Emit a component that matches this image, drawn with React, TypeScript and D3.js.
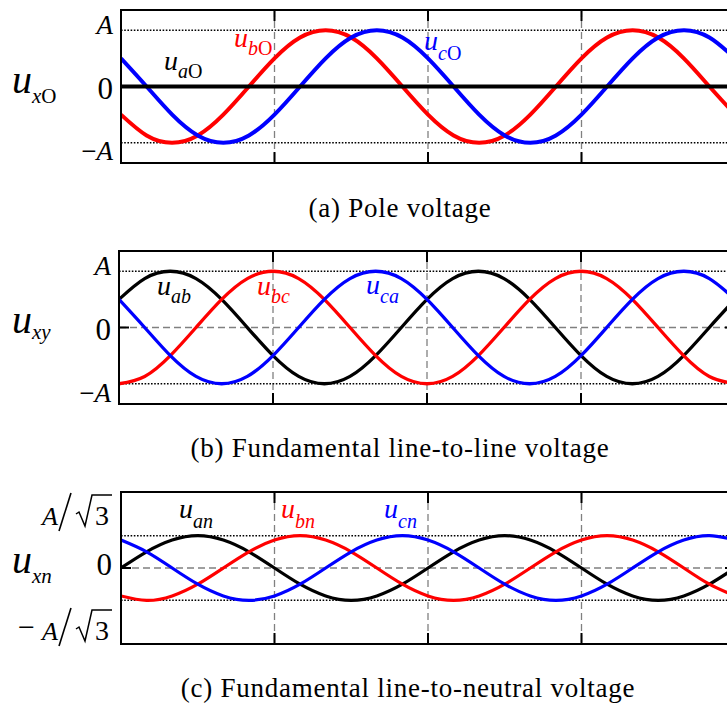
import React from "react";
import * as d3 from "d3";

// phase angle samples in degrees (two fundamental periods)
const angles = [0, 30, 60, 90, 120, 150, 180, 210, 240, 270, 300, 330, 360, 390, 420, 450, 480, 510, 540, 570, 600, 630, 660, 690, 720];
const gridAngles = [180, 360, 540];

// (a) pole voltages, in units of A
const uaO = [0, 0, 0, 0, 0, 0, 0, 0, 0, 0, 0, 0, 0, 0, 0, 0, 0, 0, 0, 0, 0, 0, 0, 0, 0];
const ubO = [-0.5, -0.87, -1, -0.87, -0.5, 0, 0.5, 0.87, 1, 0.87, 0.5, 0, -0.5, -0.87, -1, -0.87, -0.5, 0, 0.5, 0.87, 1, 0.87, 0.5, 0, -0.5];
const ucO = [0.5, 0, -0.5, -0.87, -1, -0.87, -0.5, 0, 0.5, 0.87, 1, 0.87, 0.5, 0, -0.5, -0.87, -1, -0.87, -0.5, 0, 0.5, 0.87, 1, 0.87, 0.5];

// (b) line-to-line voltages
const uab = [0.5, 0.87, 1, 0.87, 0.5, 0, -0.5, -0.87, -1, -0.87, -0.5, 0, 0.5, 0.87, 1, 0.87, 0.5, 0, -0.5, -0.87, -1, -0.87, -0.5, 0, 0.5];
const ubc = [-1, -0.87, -0.5, 0, 0.5, 0.87, 1, 0.87, 0.5, 0, -0.5, -0.87, -1, -0.87, -0.5, 0, 0.5, 0.87, 1, 0.87, 0.5, 0, -0.5, -0.87, -1];
const uca = [0.5, 0, -0.5, -0.87, -1, -0.87, -0.5, 0, 0.5, 0.87, 1, 0.87, 0.5, 0, -0.5, -0.87, -1, -0.87, -0.5, 0, 0.5, 0.87, 1, 0.87, 0.5];

// (c) line-to-neutral voltages
const uan = [0, 0.29, 0.5, 0.58, 0.5, 0.29, 0, -0.29, -0.5, -0.58, -0.5, -0.29, 0, 0.29, 0.5, 0.58, 0.5, 0.29, 0, -0.29, -0.5, -0.58, -0.5, -0.29, 0];
const ubn = [-0.5, -0.58, -0.5, -0.29, 0, 0.29, 0.5, 0.58, 0.5, 0.29, 0, -0.29, -0.5, -0.58, -0.5, -0.29, 0, 0.29, 0.5, 0.58, 0.5, 0.29, 0, -0.29, -0.5];
const ucn = [0.5, 0.29, 0, -0.29, -0.5, -0.58, -0.5, -0.29, 0, 0.29, 0.5, 0.58, 0.5, 0.29, 0, -0.29, -0.5, -0.58, -0.5, -0.29, 0, 0.29, 0.5, 0.58, 0.5];

const levelsAB = [1, -1];
const levelsC = [0.577, -0.577];

const captions = [
  "(a) Pole voltage",
  "(b) Fundamental line-to-line voltage",
  "(c) Fundamental line-to-neutral voltage",
];

const FONT = "Liberation Serif";
const RED = "#ff0000";
const BLUE = "#0000ff";
const BLACK = "#000000";
const X_RIGHT = 735;

function Sub({ x, y, main, sub, subUp, color, size = 28, subSize = 20, dy = 8 }: any) {
  return (
    <text x={x} y={y} fill={color} fontFamily={FONT} fontSize={size}>
      <tspan fontStyle="italic">{main}</tspan>
      <tspan fontStyle="italic" fontSize={subSize} dy={dy}>{sub}</tspan>
      {subUp ? <tspan fontSize={subSize}>{subUp}</tspan> : null}
    </text>
  );
}

function Panel({ id, top, bottom, left, series, levels, zeroLine, sw }: any) {
  const x = d3.scaleLinear().domain([0, 720]).range([left, X_RIGHT]);
  const y = d3.scaleLinear().domain([-1.36, 1.36]).range([bottom, top]);
  const line = d3
    .line<number>()
    .x((_, i) => x(angles[i]))
    .y((d) => y(d))
    .curve(d3.curveNatural);

  return (
    <g>
      <defs>
        <clipPath id={id}>
          <rect x={left} y={top} width={X_RIGHT - left} height={bottom - top} />
        </clipPath>
      </defs>
      {/* grid */}
      {gridAngles.map((a) => (
        <line key={a} x1={x(a)} x2={x(a)} y1={top} y2={bottom} stroke="#808080" strokeWidth={1.3} strokeDasharray="7,4" />
      ))}
      {zeroLine && (
        <line x1={left} x2={X_RIGHT} y1={y(0)} y2={y(0)} stroke="#808080" strokeWidth={1.3} strokeDasharray="7,4" />
      )}
      {levels.map((v: number) => (
        <line key={v} x1={left} x2={X_RIGHT} y1={y(v)} y2={y(v)} stroke="#000" strokeWidth={1.4} strokeDasharray="1.6,1.6" />
      ))}
      <g clipPath={`url(#${id})`}>
        {series.map((s: any, i: number) => (
          <path key={i} d={line(s.values) as string} fill="none" stroke={s.color} strokeWidth={sw} />
        ))}
      </g>
      {/* ticks */}
      {gridAngles.map((a) => (
        <g key={"t" + a}>
          <line x1={x(a)} x2={x(a)} y1={top} y2={top + 11} stroke="#000" strokeWidth={2} />
          <line x1={x(a)} x2={x(a)} y1={bottom - 11} y2={bottom} stroke="#000" strokeWidth={2} />
        </g>
      ))}
      <line x1={left} x2={left + 10} y1={y(0)} y2={y(0)} stroke="#000" strokeWidth={2} />
      <line x1={X_RIGHT - 10} x2={X_RIGHT} y1={y(0)} y2={y(0)} stroke="#000" strokeWidth={2} />
      <rect x={left} y={top} width={X_RIGHT - left} height={bottom - top} fill="none" stroke="#000" strokeWidth={2} />
    </g>
  );
}

// "A/√3" (or "−A/√3") tick label, baseline at y
function SqrtLabel({ y, minus }: any) {
  const barY = y - 30;
  return (
    <g fill="#000">
      {minus && <text x={18} y={y - 3} fontFamily={FONT} fontSize={30}>−</text>}
      <text x={42} y={y} fontFamily={FONT} fontSize={26} fontStyle="italic">A</text>
      <line x1={71} x2={59} y1={y - 32} y2={y + 6} stroke="#000" strokeWidth={1.6} />
      <path
        d={`M76,${y - 11} L79,${y - 13} L85,${y + 1} L92,${barY} L112,${barY}`}
        fill="none"
        stroke="#000"
        strokeWidth={1.5}
      />
      <text x={95} y={y} fontFamily={FONT} fontSize={28}>3</text>
    </g>
  );
}

export default function App() {
  const panelA = [
    { values: ubO, color: RED },
    { values: ucO, color: BLUE },
    { values: uaO, color: BLACK },
  ];
  const panelB = [
    { values: uab, color: BLACK },
    { values: ubc, color: RED },
    { values: uca, color: BLUE },
  ];
  const panelC = [
    { values: uan, color: BLACK },
    { values: ubn, color: RED },
    { values: ucn, color: BLUE },
  ];

  return (
    <svg width={727} height={706} style={{ position: "absolute", left: 0, top: 0, background: "#fff" }}>
      <style>{`text { font-family: "Liberation Serif", serif; }`}</style>
      <rect x={0} y={0} width={727} height={706} fill="#fff" />
      <Panel id="clipA" top={10} bottom={163} left={121} series={panelA} levels={levelsAB} zeroLine={false} sw={4} />
      <Panel id="clipB" top={251} bottom={404} left={119} series={panelB} levels={levelsAB} zeroLine={true} sw={3.3} />
      <Panel id="clipC" top={492} bottom={644} left={121} series={panelC} levels={levelsC} zeroLine={true} sw={3.2} />

      {/* panel (a) labels */}
      <Sub x={12} y={93} main="u" sub="x" subUp="O" color={BLACK} size={40} subSize={21} dy={10} />
      <text x={113} y={34} textAnchor="end" fontFamily={FONT} fontSize={27} fontStyle="italic">A</text>
      <text x={113} y={99} textAnchor="end" fontFamily={FONT} fontSize={31}>0</text>
      <text x={113} y={160} textAnchor="end" fontFamily={FONT} fontSize={27}>
        −<tspan fontStyle="italic">A</tspan>
      </text>
      <Sub x={164} y={70} main="u" sub="a" subUp="O" color={BLACK} dy={8} />
      <Sub x={234} y={47} main="u" sub="b" subUp="O" color={RED} dy={8} />
      <Sub x={424} y={50} main="u" sub="c" subUp="O" color={BLUE} dy={10} />

      {/* panel (b) labels */}
      <Sub x={12} y={333} main="u" sub="xy" color={BLACK} size={40} subSize={21} dy={6} />
      <text x={111} y={275} textAnchor="end" fontFamily={FONT} fontSize={27} fontStyle="italic">A</text>
      <text x={111} y={340} textAnchor="end" fontFamily={FONT} fontSize={31}>0</text>
      <text x={111} y={402} textAnchor="end" fontFamily={FONT} fontSize={27}>
        −<tspan fontStyle="italic">A</tspan>
      </text>
      <Sub x={157} y={295} main="u" sub="ab" color={BLACK} dy={8} />
      <Sub x={257} y={295} main="u" sub="bc" color={RED} dy={8} />
      <Sub x={366} y={294} main="u" sub="ca" color={BLUE} dy={9} />

      {/* panel (c) labels */}
      <Sub x={12} y={573} main="u" sub="xn" color={BLACK} size={40} subSize={21} dy={10} />
      <SqrtLabel y={525} />
      <text x={112} y={575} textAnchor="end" fontFamily={FONT} fontSize={31}>0</text>
      <SqrtLabel y={640} minus />
      <Sub x={179} y={518} main="u" sub="an" color={BLACK} dy={10} />
      <Sub x={281} y={518} main="u" sub="bn" color={RED} dy={10} />
      <Sub x={384} y={518} main="u" sub="cn" color={BLUE} dy={10} />

      {/* captions */}
      <text x={400} y={217} textAnchor="middle" fontFamily={FONT} fontSize={27} letterSpacing={0.75}>{captions[0]}</text>
      <text x={400} y={457} textAnchor="middle" fontFamily={FONT} fontSize={27} letterSpacing={0.75}>{captions[1]}</text>
      <text x={408} y={697} textAnchor="middle" fontFamily={FONT} fontSize={27} letterSpacing={0.75}>{captions[2]}</text>
    </svg>
  );
}
